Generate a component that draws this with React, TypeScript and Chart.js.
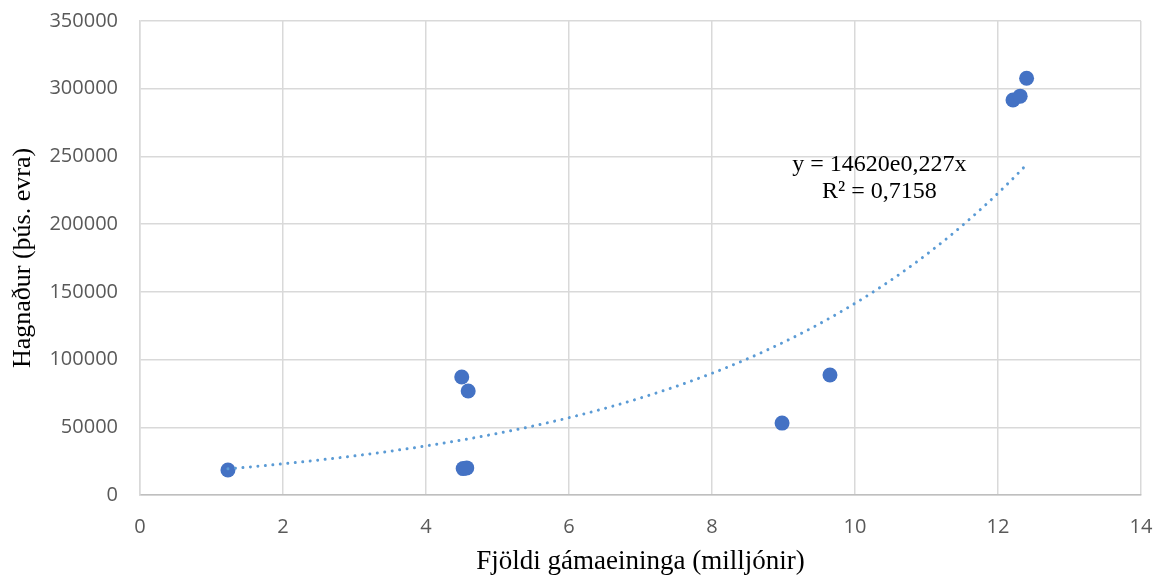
import React, { useEffect, useRef } from "react";
import { Chart, registerables } from "chart.js";

Chart.register(...registerables);

const xValues = [1.23, 4.5, 4.59, 4.52, 4.57, 8.98, 9.65, 12.21, 12.31, 12.4];
const yValues = [18500, 87100, 76800, 19500, 20000, 53100, 88600, 291700, 294500, 307700];

const xTicks = [0, 2, 4, 6, 8, 10, 12, 14];
const yTicks = [0, 50000, 100000, 150000, 200000, 250000, 300000, 350000];

const trendA = 14620;
const trendB = 0.227;
const trendRange = [1.23, 12.4];
const trendLabel = ["y = 14620e0,227x", "R² = 0,7158"];

const xTitle = "Fjöldi gámaeininga (milljónir)";
const yTitle = "Hagnaður (þús. evra)";

export default function App() {
  const ref = useRef<HTMLCanvasElement | null>(null);
  useEffect(() => {
    document.body.style.margin = "0";
    const canvas = ref.current;
    if (!canvas) return;
    const n = 80;
    const trend: { x: number; y: number }[] = [];
    for (let i = 0; i <= n; i++) {
      const x = trendRange[0] + ((trendRange[1] - trendRange[0]) * i) / n;
      trend.push({ x, y: trendA * Math.exp(trendB * x) });
    }
    const points = xValues.map((x, i) => ({ x, y: yValues[i] }));

    const labelPlugin = {
      id: "trendLabel",
      afterDatasetsDraw(chart: any) {
        const ctx = chart.ctx;
        const xs = chart.scales.x;
        const ys = chart.scales.y;
        const px = xs.getPixelForValue(10.34);
        const py = ys.getPixelForValue(243600);
        ctx.save();
        ctx.fillStyle = "#000000";
        ctx.font = "24px 'Liberation Serif', 'Times New Roman', serif";
        ctx.textAlign = "center";
        ctx.textBaseline = "middle";
        ctx.fillText(trendLabel[0], px, py);
        ctx.fillText(trendLabel[1], px, py + 27);
        ctx.restore();
      },
    };

    const chart = new Chart(canvas, {
      type: "scatter",
      data: {
        datasets: [
          {
            type: "line",
            data: trend,
            borderColor: "#5B9BD5",
            borderWidth: 3,
            borderDash: [0.01, 7.5],
            borderCapStyle: "round",
            pointRadius: 0,
            fill: false,
            tension: 0,
          } as any,
          {
            data: points,
            backgroundColor: "#4472C4",
            borderColor: "#4472C4",
            pointRadius: 7.5,
            pointHoverRadius: 7.5,
            borderWidth: 0,
          },
        ],
      },
      options: {
        responsive: false,
        animation: false,
        events: [],
        layout: { padding: { top: 21, right: 21, left: 0, bottom: 0 } },
        plugins: {
          legend: { display: false },
          tooltip: { enabled: false },
        },
        scales: {
          x: {
            type: "linear",
            min: 0,
            max: 14,
            afterBuildTicks: (s: any) => {
              s.ticks = xTicks.map((v) => ({ value: v }));
            },
            afterFit: (s: any) => {
              s.height = 83;
              s.paddingLeft = 0;
              s.paddingRight = 0;
            },
            ticks: {
              color: "#595959",
              font: { family: "'Open Sans', sans-serif", size: 20 },
              padding: 20,
              callback: (v: any) => String(v),
            },
            grid: { color: "#d9d9d9", lineWidth: 1.5, drawTicks: false },
            border: { color: "#bfbfbf", width: 1.5 },
            title: {
              display: true,
              text: xTitle,
              color: "#000000",
              font: { family: "'Liberation Serif', 'Times New Roman', serif", size: 27 },
              padding: { top: 4, bottom: 0 },
            },
          },
          y: {
            type: "linear",
            min: 0,
            max: 350000,
            afterBuildTicks: (s: any) => {
              s.ticks = yTicks.map((v) => ({ value: v }));
            },
            afterFit: (s: any) => {
              s.width = 140;
              s.paddingTop = 0;
              s.paddingBottom = 0;
            },
            ticks: {
              color: "#595959",
              font: { family: "'Open Sans', sans-serif", size: 20 },
              padding: 22,
              callback: (v: any) => String(v),
            },
            grid: { color: "#d9d9d9", lineWidth: 1.5, drawTicks: false },
            border: { color: "#d9d9d9", width: 1.5 },
            title: {
              display: true,
              text: yTitle,
              color: "#000000",
              font: { family: "'Liberation Serif', 'Times New Roman', serif", size: 26 },
              padding: { top: 8, bottom: 4 },
            },
          },
        },
      },
      plugins: [labelPlugin],
    } as any);
    return () => chart.destroy();
  }, []);
  return (
    <div style={{ position: "absolute", left: 0, top: 0, width: 1162, height: 578 }}>
      <canvas ref={ref} width={1162} height={578} />
    </div>
  );
}
